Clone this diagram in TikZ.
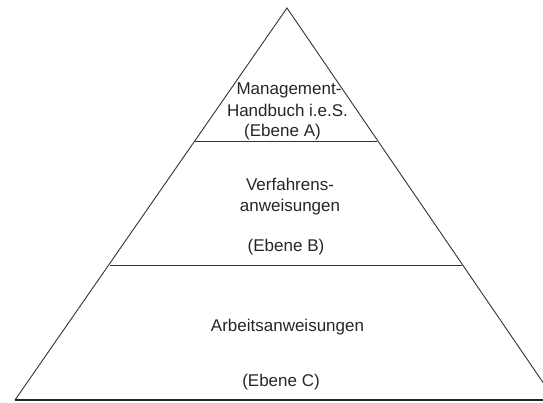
\documentclass[tikz,border=0pt]{standalone}
\usepackage{fontspec}
\setmainfont{Liberation Sans}
\begin{document}
\begin{tikzpicture}[x=1pt,y=-1pt,
  edge/.style={draw=black!80, line width=0.9pt},
  baseedge/.style={draw=black!85, line width=2pt},
  txt/.style={font=\fontsize{17}{21.5}\selectfont, inner sep=0pt, anchor=base, text=black!85}]
\useasboundingbox (0,0) rectangle (543,402);
\clip (0,0) rectangle (543,402);
\coordinate (apex) at (287,8);
\coordinate (bl) at (15,400);
\coordinate (br) at (555,400);
\coordinate (a1) at (195,141);
\coordinate (a2) at (377,141);
\coordinate (b1) at (110,265);
\coordinate (b2) at (462,265);
\draw[edge] (bl) -- (apex) -- (br);
\draw[edge] (a1) -- (a2);
\draw[edge] (b1) -- (b2);
\draw[baseedge] (bl) -- (br);
\node[txt] (la1) at (289,94.3) {Management-};
\node[txt] (la2) at (287.5,116.7) {Handbuch i.e.S.};
\node[txt] (la3) at (282.5,136.7) {(Ebene A)};
\node[txt] (lb1) at (290,190) {Verfahrens-};
\node[txt] (lb2) at (290,211.7) {anweisungen};
\node[txt] (lb3) at (286,251.7) {(Ebene B)};
\node[txt] (lc1) at (287.5,331.7) {Arbeitsanweisungen};
\node[txt] (lc2) at (281,386) {(Ebene C)};
\end{tikzpicture}
\end{document}
